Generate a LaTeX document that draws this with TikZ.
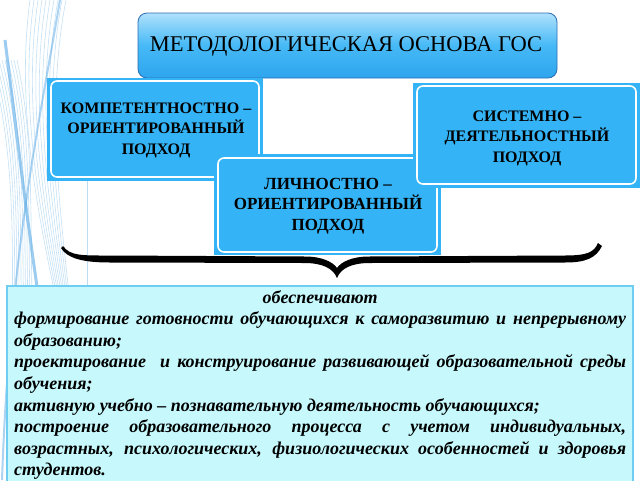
\documentclass[tikz,border=0pt]{standalone}
\usepackage{fontspec}
\setmainfont{Liberation Serif}
\usetikzlibrary{shadings}
\definecolor{boxblue}{RGB}{52,180,246}
\definecolor{topblueA}{RGB}{175,225,252}
\definecolor{topblueB}{RGB}{70,185,246}
\definecolor{topblueC}{RGB}{45,165,238}
\definecolor{topedge}{RGB}{45,110,180}
\definecolor{txtfill}{RGB}{198,248,252}
\definecolor{txtedge}{RGB}{110,205,240}
\definecolor{deco}{RGB}{90,170,230}
\tikzset{
  backrect/.style={fill=boxblue, draw=none},
  approach/.style={fill=boxblue, draw=white, line width=1.6pt, rounded corners=6pt},
  approachtext/.style={align=center, font=\fontsize{16}{20.5}\selectfont\bfseries, inner sep=0pt},
  decoline/.style={draw=deco, opacity=0.35, line width=0.6pt},
}
\begin{document}
\begin{tikzpicture}[x=1pt,y=-1pt]
\clip (0,0) rectangle (640,480);
\fill[white] (0,0) rectangle (640,480);
% decorative background stripes on the left
\foreach \i in {0,...,9}{
  \draw[decoline] (30+4*\i,0) .. controls (10+3*\i,150) and (60+2*\i,300) .. (95-\i,480);
  \draw[decoline] (-10+3*\i,60) .. controls (30+2*\i,200) and (0+\i,350) .. (20+5*\i,480);
}
\draw[draw=deco, opacity=0.6, line width=3pt] (5,40) .. controls (25,200) and (40,330) .. (70,480);
\draw[draw=deco, opacity=0.5, line width=2pt] (60,0) .. controls (40,120) and (10,250) .. (2,480);
\draw[draw=deco, opacity=0.4, line width=1pt] (87,180) -- (87,480);

% title box
\shade[top color=topblueA, bottom color=topblueC, middle color=topblueB, draw=topedge, line width=0.8pt, rounded corners=9pt]
  (138,13) rectangle (557,78);
\node[font=\fontsize{22.5}{26}\selectfont, inner sep=0pt] (title) at (346,46) {МЕТОДОЛОГИЧЕСКАЯ ОСНОВА ГОС};

% left approach box
\fill[backrect] (47,78) rectangle (263,181);
\draw[approach] (51,81) rectangle (259,177);
\node[approachtext] (comp) at (156,130) {КОМПЕТЕНТНОСТНО –\\ОРИЕНТИРОВАННЫЙ\\ПОДХОД};

% middle approach box
\fill[backrect] (214,154) rectangle (441,255);
\draw[approach] (218,158) rectangle (437,252);
\node[approachtext, font=\fontsize{17}{20.5}\selectfont\bfseries] (lich) at (328,206) {ЛИЧНОСТНО –\\ОРИЕНТИРОВАННЫЙ\\ПОДХОД};

% right approach box
\fill[backrect] (413,83) rectangle (640,188);
\draw[approach] (417,86) rectangle (636,184);
\node[approachtext] (sist) at (527,138) {СИСТЕМНО –\\ДЕЯТЕЛЬНОСТНЫЙ\\ПОДХОД};

% brace
\fill[black]
  (63,246) .. controls (70,256) and (82,255.5) .. (110,255.5)
  -- (305,256.5) .. controls (322,256.5) and (333,262) .. (337,268)
  .. controls (341,262) and (352,256.5) .. (369,256.5)
  -- (565,255.5) .. controls (588,255.5) and (594,252) .. (598,243)
  -- (602,246)
  .. controls (596,258) and (586,262.5) .. (565,262.5)
  -- (370,263) .. controls (352,263) and (341,268) .. (337,278)
  .. controls (333,268) and (322,263) .. (304,263)
  -- (110,262.5) .. controls (82,262.5) and (67,258) .. (61,248) -- cycle;

% text box
\draw[fill=txtfill, draw=txtedge, line width=1.2pt] (7,286) rectangle (633,500);
\node[anchor=north west, inner sep=0pt] (txt) at (14,290)
{\begin{minipage}{612pt}\setlength{\parindent}{0pt}\fontsize{18}{21.6}\selectfont\bfseries\itshape
{\centering обеспечивают\par}
формирование готовности обучающихся к саморазвитию и непрерывному\linebreak образованию;\par
проектирование\ \ и конструирование развивающей образовательной среды\linebreak обучения;\par
активную учебно – познавательную деятельность обучающихся;\par
построение образовательного процесса с учетом индивидуальных,\linebreak возрастных, психологических, физиологических особенностей и здоровья\linebreak студентов.\par
\end{minipage}};
\end{tikzpicture}
\end{document}
